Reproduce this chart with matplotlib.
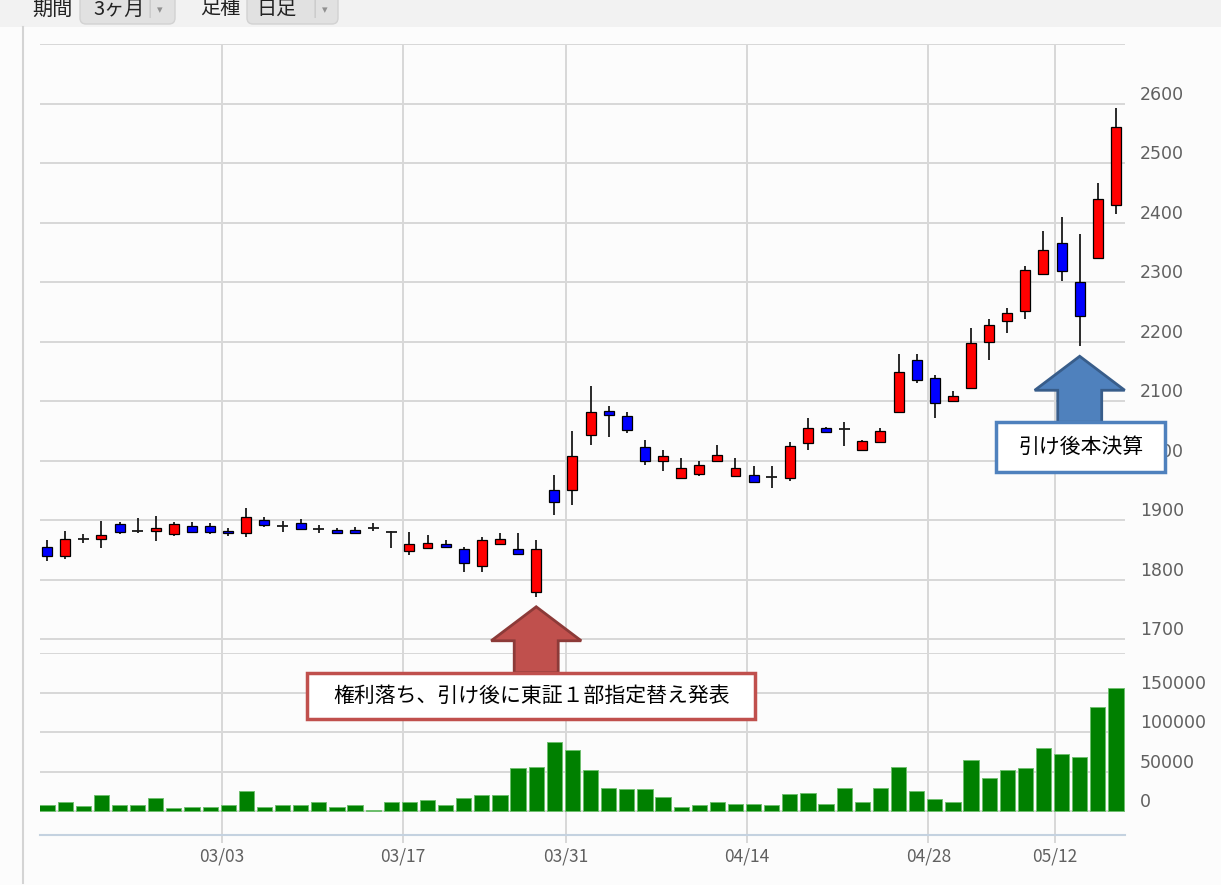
import matplotlib
matplotlib.use("Agg")
import matplotlib.pyplot as plt
import matplotlib.transforms as mtransforms
from matplotlib.patches import Polygon, Rectangle, FancyBboxPatch
from matplotlib.lines import Line2D
import numpy as np
import pandas as pd

plt.rcParams['font.family'] = ['Noto Sans CJK JP', 'DejaVu Sans']

# trading days (TSE holidays removed)
holidays = ['2014-03-21', '2014-04-29', '2014-05-05', '2014-05-06']
days = pd.bdate_range('2014-02-17', '2014-05-15')
days = days[~days.isin(pd.to_datetime(holidays))]

opens = [1855, 1840, 1868, 1868, 1893, 1882, 1882, 1876, 1890, 1890,
         1882, 1878, 1900, 1890, 1895, 1885, 1883, 1883, 1887, 1880,
         1848, 1853, 1860, 1851, 1823, 1860, 1851, 1779, 1951, 1951,
         2043, 2083, 2074, 2022, 2000, 1971, 1977, 2000, 1974, 1975,
         1972, 1971, 2030, 2054, 2053, 2017, 2031, 2081, 2169, 2138,
         2100, 2122, 2200, 2235, 2251, 2314, 2366, 2300, 2340, 2429]
highs = [1866, 1882, 1876, 1898, 1897, 1903, 1907, 1897, 1897, 1895,
         1887, 1920, 1905, 1898, 1901, 1892, 1887, 1888, 1895, 1881,
         1880, 1875, 1866, 1855, 1872, 1878, 1878, 1866, 1975, 2049,
         2125, 2091, 2081, 2035, 2018, 2004, 1999, 2026, 2004, 1990,
         1990, 2031, 2071, 2057, 2064, 2035, 2054, 2179, 2179, 2143,
         2117, 2223, 2238, 2257, 2327, 2385, 2409, 2380, 2466, 2592]
lows = [1831, 1834, 1861, 1853, 1876, 1878, 1865, 1873, 1878, 1876,
        1873, 1872, 1888, 1880, 1883, 1878, 1878, 1876, 1882, 1853,
        1841, 1852, 1853, 1813, 1813, 1859, 1842, 1771, 1908, 1926,
        2026, 2039, 2047, 1992, 1982, 1971, 1974, 2000, 1973, 1963,
        1953, 1966, 2018, 2046, 2025, 2016, 2030, 2080, 2131, 2072,
        2099, 2120, 2169, 2215, 2238, 2313, 2301, 2192, 2338, 2415]
closes = [1840, 1868, 1868, 1875, 1880, 1882, 1886, 1893, 1880, 1880,
          1879, 1905, 1892, 1890, 1885, 1885, 1879, 1879, 1887, 1880,
          1860, 1861, 1855, 1828, 1866, 1868, 1843, 1851, 1930, 2008,
          2081, 2077, 2052, 2000, 2008, 1988, 1992, 2009, 1987, 1964,
          1972, 2024, 2054, 2048, 2053, 2032, 2050, 2148, 2135, 2096,
          2109, 2198, 2227, 2248, 2321, 2353, 2318, 2243, 2440, 2560]
volumes = [8500, 12000, 6400, 20000, 8500, 8500, 16200, 4300, 6000, 6000,
           7700, 25600, 6000, 7700, 7700, 11500, 6000, 7700, 1300, 11500,
           11500, 13700, 7700, 16200, 20000, 20000, 54300, 56000, 88000, 78000,
           52000, 30000, 27800, 27800, 18000, 6000, 7700, 11500, 9400, 9400,
           7700, 21800, 23500, 9400, 30000, 11500, 30000, 55600, 25600, 15800,
           11500, 65400, 41900, 52000, 54300, 80000, 71800, 68400, 131600, 156000]

tick_dates = ['2014-03-03', '2014-03-17', '2014-03-31',
              '2014-04-14', '2014-04-28', '2014-05-12']
price_labels = [1700, 1800, 1900, 2000, 2100, 2200, 2300, 2400, 2500, 2600]
vol_labels = [0, 50000, 100000, 150000]

note1 = '権利落ち、引け後に東証１部指定替え発表'
note2 = '引け後本決算'

W, H = 1221, 885
grid_c = '#d8d8d8'
lbl_c = '#606060'

fig = plt.figure(figsize=(W / 100, H / 100), dpi=100, facecolor='#fcfcfc')


def fx(x):
    return x / W


def fy(y):
    return 1 - y / H


ax = fig.add_axes([fx(40), fy(653), 1085 / W, 609 / H])
axv = fig.add_axes([fx(40), fy(835), 1085 / W, 182 / H], sharex=ax)

x = np.arange(len(days))
o = np.array(opens)
c = np.array(closes)
up = c > o
down = c < o
flat = c == o

# candles
ax.vlines(x, lows, highs, color='#1a1a1a', lw=1.3, zorder=2)
ax.bar(x[up], (c - o)[up], bottom=o[up], width=0.55, color='#ff0000',
       edgecolor='black', lw=0.9, zorder=3)
ax.bar(x[down], (o - c)[down], bottom=c[down], width=0.55, color='#0000ff',
       edgecolor='black', lw=0.9, zorder=3)
ax.hlines(o[flat], x[flat] - 0.3, x[flat] + 0.3, color='#1a1a1a', lw=1.3, zorder=3)

# volume
axv.bar(x, volumes, width=0.84, color='#008000', edgecolor='#6fbf6f', lw=0.7, zorder=3)

# axes styling
tick_pos = [list(days).index(pd.Timestamp(d)) - 0.36 for d in tick_dates]
ax.set_xlim(-0.39, 59.5)
ax.set_ylim(1676.5, 2700)
axv.set_ylim(-30000, 200000)

for a in (ax, axv):
    a.set_facecolor('none')
    for s in a.spines.values():
        s.set_visible(False)
    a.set_axisbelow(True)
    a.grid(True, color=grid_c, lw=1.4)
    a.set_xticks(tick_pos)
    a.tick_params(axis='y', length=0, labelleft=False)

ax.set_yticks(range(1700, 2800, 100))
axv.set_yticks([0, 50000, 100000, 150000, 200000])
ax.tick_params(axis='x', length=0, labelbottom=False)
axv.set_xticklabels([d[5:].replace('-', '/') for d in tick_dates])
axv.tick_params(axis='x', length=5.8, width=1.4, color=grid_c, pad=3,
                labelsize=12.5, labelcolor=lbl_c)
axv.spines['bottom'].set_visible(True)
axv.spines['bottom'].set_color('#c4d2e0')
axv.spines['bottom'].set_linewidth(1.5)

# right-hand labels sit above their grid lines
off = mtransforms.ScaledTranslation(0.15, 0.09, fig.dpi_scale_trans)
for v in price_labels:
    ax.text(1.0, v, str(v), transform=ax.get_yaxis_transform() + off,
            ha='left', va='center', fontsize=12.5, color=lbl_c,
            family='DejaVu Sans', clip_on=False)
for v in vol_labels:
    axv.text(1.0, v, str(v), transform=axv.get_yaxis_transform() + off,
             ha='left', va='center', fontsize=12.5, color=lbl_c,
             family='DejaVu Sans', clip_on=False)

# header strip and frame
fig.patches.append(Rectangle((0, fy(27)), 1, 27 / H, transform=fig.transFigure,
                             facecolor='#f2f2f2', edgecolor='none', zorder=1))
fig.add_artist(Line2D([fx(23), fx(23)], [fy(27), fy(883)], color='#d4d4d4', lw=1.5))
idt = mtransforms.IdentityTransform()
for bx, bw in [(80, 95), (247, 91)]:
    fig.patches.append(FancyBboxPatch((bx, H - 24), bw, 40,
                                      boxstyle='round,pad=0,rounding_size=6',
                                      facecolor='#e1e1e1', edgecolor='#d2d2d2',
                                      lw=1, transform=idt, zorder=2))
for tx, t in [(32, '期間'), (93, '3ヶ月'), (200, '足種'), (256, '日足')]:
    fig.text(fx(tx), fy(9), t, fontsize=14.5, va='center', ha='left', color='#222222')
for sx in (147, 312):
    fig.text(fx(sx), fy(9), '|', fontsize=11, va='center', ha='left', color='#c0c0c0')
    fig.text(fx(sx + 10), fy(10), '▾', fontsize=8, va='center', ha='left',
             color='#909090', family='DejaVu Sans')


# block arrows with text boxes, anchored under a candle
def callout(i, text, fill, edge, box_dx, box_w, box_h):
    px, py = ax.transData.transform((x[i], lows[i]))
    ty = py - 10
    pts = [(px, ty), (px + 45, ty - 34), (px + 22, ty - 34), (px + 22, ty - 66),
           (px - 22, ty - 66), (px - 22, ty - 34), (px - 45, ty - 34)]
    fig.patches.append(Polygon(pts, closed=True, facecolor=fill, edgecolor=edge,
                               lw=2, transform=idt, zorder=5))
    cx = px + box_dx
    cy = ty - 66 - box_h / 2
    fig.patches.append(Rectangle((cx - box_w / 2, cy - box_h / 2), box_w, box_h,
                                 facecolor='white', edgecolor=fill, lw=2.5,
                                 transform=idt, zorder=6))
    fig.text(cx / W, cy / H, text, fontsize=15, ha='center', va='center',
             color='black', zorder=7)


callout(27, note1, '#c0504d', '#8c3a38', -5, 448, 46)
callout(57, note2, '#4f81bd', '#385d8a', 1, 169, 50)

fig.savefig('out.png', dpi=100, facecolor=fig.get_facecolor())
